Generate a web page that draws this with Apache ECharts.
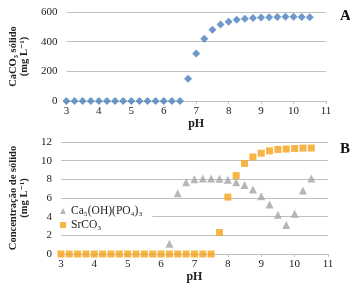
<!DOCTYPE html>
<html>
<head>
<meta charset="utf-8">
<script src="https://cdn.jsdelivr.net/npm/echarts@6/dist/echarts.min.js"></script>
<style>
  html, body { margin: 0; padding: 0; background: #fff; }
  #chart { width: 350px; height: 285px; }
</style>
</head>
<body>
<div id="chart"></div>
<script>
// panel A: CaCO3 vs pH
const phA = [3, 3.25, 3.5, 3.75, 4, 4.25, 4.5, 4.75, 5, 5.25, 5.5, 5.75, 6, 6.25, 6.5, 6.75, 7, 7.25, 7.5, 7.75, 8, 8.25, 8.5, 8.75, 9, 9.25, 9.5, 9.75, 10, 10.25, 10.5];
const caco3 = [0, 0, 0, 0, 0, 0, 0, 0, 0, 0, 0, 0, 0, 0, 0, 150, 320, 420, 480, 515, 535, 548, 555, 560, 563, 565, 567, 568, 568, 566, 565];

// panel B: hydroxyapatite and SrCO3
const phHap = [6.25, 6.5, 6.75, 7, 7.25, 7.5, 7.75, 8, 8.25, 8.5, 8.75, 9, 9.25, 9.5, 9.75, 10, 10.25, 10.5];
const hap = [1.1, 6.5, 7.7, 8.0, 8.1, 8.1, 8.05, 7.95, 7.7, 7.4, 6.9, 6.2, 5.3, 4.2, 3.1, 4.3, 6.8, 8.1];

const phSr = [3, 3.25, 3.5, 3.75, 4, 4.25, 4.5, 4.75, 5, 5.25, 5.5, 5.75, 6, 6.25, 6.5, 6.75, 7, 7.25, 7.5, 7.75, 8, 8.25, 8.5, 8.75, 9, 9.25, 9.5, 9.75, 10, 10.25, 10.5];
const srco3 = [0, 0, 0, 0, 0, 0, 0, 0, 0, 0, 0, 0, 0, 0, 0, 0, 0, 0, 0, 2.3, 6.1, 8.4, 9.7, 10.4, 10.8, 11.05, 11.2, 11.25, 11.3, 11.35, 11.35];

const serif = '"Liberation Serif", "DejaVu Serif", serif';
const gridColor = '#c0c0c0';

const pairs = (xs, ys) => xs.map((x, i) => [x, ys[i]]);

const xAxisBase = (gridIndex, gap) => ({
  type: 'value',
  gridIndex,
  min: 3,
  max: 11,
  interval: 1,
  name: 'pH',
  nameLocation: 'middle',
  nameGap: gap,
  nameTextStyle: { fontFamily: serif, fontWeight: 'bold', fontSize: 12, color: '#222' },
  axisLine: { onZero: false, lineStyle: { color: gridColor } },
  axisTick: { show: true, length: 3, lineStyle: { color: gridColor } },
  axisLabel: { fontFamily: serif, fontSize: 11, color: '#222', margin: 5 },
  splitLine: { show: false }
});

const yAxisBase = (gridIndex, max, interval, name) => ({
  type: 'value',
  gridIndex,
  min: 0,
  max,
  interval,
  name,
  nameLocation: 'middle',
  nameRotate: 90,
  nameGap: 29,
  nameTextStyle: { fontFamily: serif, fontWeight: 'bold', fontSize: 10.5, color: '#222', lineHeight: 11 },
  axisLine: { show: false },
  axisTick: { show: false },
  axisLabel: { fontFamily: serif, fontSize: 11, color: '#222', margin: 9 },
  splitLine: { lineStyle: { color: gridColor } }
});

const chart = echarts.init(document.getElementById('chart'));
chart.setOption({
  animation: false,
  backgroundColor: '#fff',
  title: [
    { text: 'A', left: 335, top: 4, textStyle: { fontFamily: serif, fontWeight: 'bold', fontSize: 15, color: '#111' } },
    { text: 'B', left: 335, top: 137, textStyle: { fontFamily: serif, fontWeight: 'bold', fontSize: 15, color: '#111' } }
  ],
  grid: [
    { left: 47, right: 24, top: 12, height: 89 },
    { left: 47, right: 22, top: 142, height: 112 }
  ],
  xAxis: [xAxisBase(0, 11), xAxisBase(1, 16)],
  yAxis: [
    yAxisBase(0, 600, 200, 'CaCO₃ sólido\n(mg L⁻¹)'),
    yAxisBase(1, 12, 2, 'Concentração de sólido\n(mg L⁻¹)')
  ],
  legend: {
    left: 57,
    top: 203,
    orient: 'vertical',
    backgroundColor: '#fff',
    padding: [2, 10, 2, 3],
    itemGap: 2,
    itemWidth: 6,
    itemHeight: 6,
    textStyle: { fontFamily: serif, fontSize: 11.5, color: '#222' },
    data: [
      { name: 'Ca₅(OH)(PO₄)₃', icon: 'triangle' },
      { name: 'SrCO₃', icon: 'rect' }
    ]
  },
  series: [
    {
      name: 'CaCO₃',
      type: 'scatter',
      xAxisIndex: 0,
      yAxisIndex: 0,
      symbol: 'diamond',
      symbolSize: 8,
      itemStyle: { color: '#4a7ebb' },
      data: pairs(phA, caco3)
    },
    {
      name: 'Ca₅(OH)(PO₄)₃',
      type: 'scatter',
      xAxisIndex: 1,
      yAxisIndex: 1,
      symbol: 'triangle',
      symbolSize: 8,
      itemStyle: { color: '#a5a5a5' },
      data: pairs(phHap, hap)
    },
    {
      name: 'SrCO₃',
      type: 'scatter',
      xAxisIndex: 1,
      yAxisIndex: 1,
      symbol: 'rect',
      symbolSize: 7,
      itemStyle: { color: '#f5a31a' },
      data: pairs(phSr, srco3)
    }
  ]
});
</script>
</body>
</html>
